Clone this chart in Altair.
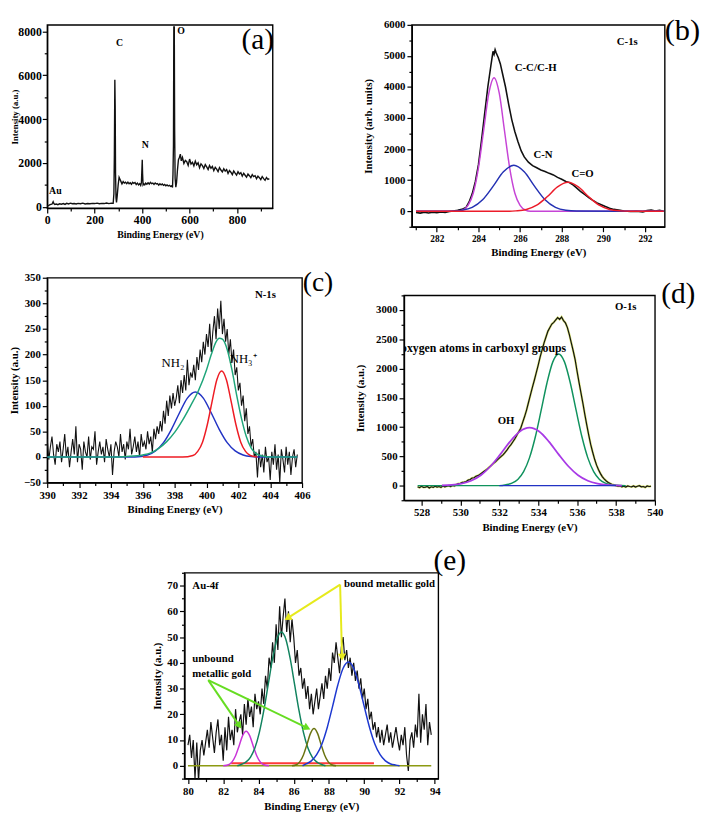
import altair as alt
import pandas as pd

SERIF = "Liberation Serif"

# ---------------- (a) survey spectrum ----------------
a_x = [0, 5, 10, 15, 20, 25, 28, 32, 38, 45,
       52, 60, 68, 75, 82, 90, 98, 106, 114, 122,
       130, 140, 150, 160, 170, 180, 190, 200, 210, 220,
       230, 240, 250, 260, 270, 278, 281, 283, 285, 286.5,
       288, 290, 292, 295, 299, 303, 307, 311, 315, 320,
       325, 330, 335, 340, 345, 350, 355, 360, 365, 370,
       375, 380, 385, 390, 394, 397, 399, 400.5, 402, 404,
       407, 411, 415, 420, 425, 430, 435, 440, 445, 450,
       455, 460, 465, 470, 475, 480, 485, 490, 495, 500,
       505, 510, 515, 520, 525, 528, 530, 532, 533.5, 535.5,
       537, 539, 542, 545, 549, 553, 557, 561, 565]
a_y = [30, 60, 90, 110, 120, 230, 150, 110, 130, 100,
       140, 120, 150, 110, 160, 130, 170, 140, 150, 130,
       160, 140, 170, 130, 150, 140, 160, 150, 170, 140,
       160, 150, 175, 150, 170, 160, 600, 2400, 5800, 4600,
       1500, 400, 200, 500, 1000, 1350, 1250, 1150, 1050, 1150,
       1080, 1120, 1060, 1130, 1050, 1100, 1030, 1120, 1070, 1110,
       1020, 1080, 1000, 1060, 980, 1100, 1700, 2150, 1500, 1000,
       1050, 1000, 1080, 1030, 1100, 1040, 1120, 1060, 1080, 1020,
       1090, 1040, 1060, 990, 1050, 1000, 1040, 980, 1020, 960,
       1000, 950, 980, 930, 960, 880, 1500, 2800, 8200, 8200,
       3500, 1300, 900, 1100, 1700, 2150, 2250, 2400, 2100]
# tail of the survey: start energy, step, measured values
a_tail_start, a_tail_step = 570, 6
a_tail = [2250, 1980, 2120, 2060, 1890, 2180, 1950, 2030, 1870, 2090,
          1920, 2010, 1780, 1960, 1880, 1750, 1930, 1820, 1700, 1890,
          1760, 1840, 1650, 1800, 1720, 1610, 1790, 1680, 1590, 1740,
          1630, 1700, 1520, 1660, 1580, 1470, 1640, 1540, 1450, 1600,
          1500, 1560, 1400, 1530, 1440, 1350, 1500, 1420, 1330, 1470,
          1380, 1420, 1280, 1400, 1330, 1240, 1380, 1290, 1210, 1340,
          1250, 1290]
a_lbl = ["C", "N", "O", "Au"]
a_lbl_x = [290, 398, 548, 8]
a_lbl_y = [7460, 2830, 8000, 720]

# ---------------- (b) C-1s ----------------
b_black_x = [281.0, 281.2, 281.4, 281.6, 281.8, 282.0, 282.2, 282.4, 282.6, 282.8,
             283.0, 283.2, 283.4, 283.55, 283.7, 283.85, 284.0, 284.15, 284.3, 284.45,
             284.6, 284.7, 284.75, 284.8, 284.85, 284.95, 285.05, 285.15, 285.3, 285.45,
             285.6, 285.75, 285.9, 286.05, 286.2, 286.4, 286.6, 286.8, 287.0, 287.2,
             287.4, 287.6, 287.8, 288.0, 288.2, 288.35, 288.5, 288.7, 288.9, 289.1,
             289.3, 289.5, 289.7, 289.9, 290.1, 290.3, 290.5, 290.8, 291.0, 291.3,
             291.6, 291.9, 292.1, 292.3, 292.5, 292.7, 292.9]
b_black_y = [-40, -60, -30, -55, -35, -50, -20, -40, -10, 10,
             30, 60, 120, 300, 560, 950, 1500, 2300, 3150, 4000,
             4700, 5150, 5050, 5200, 5100, 4950, 4750, 4450, 4000, 3450,
             2950, 2560, 2240, 1950, 1750, 1580, 1470, 1400, 1330, 1280,
             1220, 1170, 1090, 1030, 960, 930, 870, 760, 640, 540,
             440, 350, 270, 210, 150, 100, 60, 30, 10, -10,
             0, -20, 20, 40, 10, 30, 0]
b_cc_x = [281.0, 283.0, 283.25, 283.5, 283.75, 284.0, 284.25, 284.5, 284.75, 285.0,
          285.25, 285.5, 285.75, 286.0, 286.25, 286.5, 292.9]
b_cc_y = [0, 0, 40, 190, 580, 1400, 2600, 3800, 4300, 3800,
          2600, 1400, 580, 190, 40, 0, 0]
b_cn_x = [281.0, 282.7, 283.2, 283.7, 284.2, 284.7, 285.2, 285.7, 286.2, 286.7,
          287.2, 287.7, 288.2, 288.7, 292.9]
b_cn_y = [0, 0, 30, 125, 370, 800, 1270, 1480, 1270, 800,
          370, 125, 30, 5, 0]
b_co_x = [281.0, 285.5, 285.8, 286.3, 286.8, 287.3, 287.8, 288.3, 288.8, 289.3,
          289.8, 290.3, 290.8, 291.3, 292.9]
b_co_y = [0, 0, 12, 58, 196, 465, 782, 930, 782, 465,
          196, 58, 12, 0, 0]
b_lbl = ["C-1s", "C-C/C-H", "C-N", "C=O"]
b_lbl_x = [291.15, 286.75, 287.1, 289.0]
b_lbl_y = [5460, 4610, 1800, 1200]

# ---------------- (c) N-1s ----------------
c_start, c_step = 390.0, 0.1
c_black = [35, -5, 20, 40, 5, -15, 25, 10, 30, -10,
           15, 45, 0, 20, -20, 10, 35, 5, 60, -10,
           25, 15, -25, 30, 10, 0, 40, -5, 20, 15,
           50, -15, 10, 30, 5, 20, -10, 35, 15, 0,
           25, -35, 10, 30, 20, 0, 45, 10, 25, -5,
           30, 15, 55, 5, 20, 40, 10, 30, 0, 45, 20,
           30, 15, 50, 25, 40, 10, 55, 35, 60, 45,
           70, 50, 90, 65, 110, 80, 120, 95, 125, 100,
           115, 140, 105, 150, 125, 160, 130, 190, 140, 165,
           155, 180, 150, 195, 170, 210, 185, 225, 200, 240,
           215, 260, 205, 245, 275, 230, 290, 250, 305, 240,
           270, 225, 250, 200, 230, 185, 210, 160, 175, 130,
           145, 100, 120, 70, 95, 45, 60, 20, 35, 0,
           10, -40, 15, -20, 5, -30, 20, -10, 0, -45,
           10, -15, 25, -25, 5, -50, 15, -5, -30, 20,
           -15, 10, -35, 0, 15, -20, 5]
c_blue_x = [390.0, 395.5, 396.3, 396.8, 397.3, 397.8, 398.3, 398.8, 399.3, 399.8,
            400.3, 400.8, 401.3, 401.8, 402.3, 402.8, 403.5, 405.7]
c_blue_y = [0, 0, 4, 12, 28, 54, 86, 115, 127, 115,
            86, 54, 28, 12, 4, 1, 0, 0]
c_red_x = [396.0, 398.5, 399.15, 399.45, 399.75, 400.05, 400.35, 400.65, 400.95, 401.25,
           401.55, 401.85, 402.15, 402.45, 402.75, 403.2]
c_red_y = [0, 0, 3, 11, 29, 63, 108, 151, 168, 151,
           108, 63, 29, 11, 3, 0]
c_fit_x = [390.0, 394.0, 395.0, 396.0, 396.5, 397.0, 397.5, 398.0, 398.5, 399.0,
           399.5, 400.0, 400.3, 400.6, 400.8, 401.0, 401.3, 401.6, 401.9, 402.2,
           402.5, 402.8, 403.1, 403.5, 404.0, 405.7]
c_fit_y = [0, 0, 1, 4, 8, 17, 30, 48, 72, 100,
           130, 170, 200, 225, 232, 230, 210, 170, 120, 75,
           40, 18, 7, 2, 0, 0]
c_lbl = ["N-1s", "NH₂", "NH₃⁺"]
c_lbl_x = [403.7, 397.9, 402.3]
c_lbl_y = [317, 183, 192]

# ---------------- (d) O-1s ----------------
d_start, d_step = 527.8, 0.1
d_black = [-20, -35, -10, -30, -25, -15, -40, -20, -30, -10,
           -25, -15, -30, -5, -20, -10, 0, -15, 5, -5,
           20, 35, 40, 55, 60, 70, 95, 105, 130, 135,
           160, 170, 190, 215, 240, 265, 290, 320, 350, 380,
           405, 440, 470, 500, 530, 570, 610, 660, 700, 750,
           800, 860, 920, 980, 1080, 1180, 1290, 1420, 1550, 1680,
           1800, 1930, 2060, 2200, 2320, 2440, 2540, 2640, 2700, 2760,
           2790, 2830, 2870, 2840, 2880, 2820, 2780, 2700, 2580, 2440,
           2300, 2150, 1950, 1760, 1580, 1400, 1210, 1030, 860, 700,
           570, 450, 350, 270, 205, 150, 110, 80, 55, 35,
           20, 10, 0, -10, -5, -20, -10, -25, -5, -15,
           -20, -5, -25, -10, 0, -20, -15, -30, -5, -15,
           -10]
d_green_x = [527.8, 532.0, 532.35, 532.65, 532.95, 533.25, 533.55, 533.85, 534.15, 534.45,
             534.75, 535.05, 535.35, 535.65, 535.95, 536.25, 536.55, 536.85, 537.15, 537.45,
             537.75, 538.05, 538.5]
d_green_y = [0, 0, 15, 42, 106, 239, 474, 830, 1284, 1754,
             2114, 2250, 2114, 1754, 1284, 830, 474, 239, 106, 42,
             15, 5, 0]
d_oh_x = [529.05, 529.55, 530.05, 530.55, 531.05, 531.55, 532.05, 532.55, 533.05, 533.55,
          534.05, 534.55, 535.05, 535.55, 536.05, 536.55, 537.05, 537.55, 538.05, 538.3]
d_oh_y = [4, 12, 35, 84, 178, 331, 534, 752, 925, 990,
          925, 752, 534, 331, 178, 84, 35, 12, 4, 0]
d_base_x = [532.0, 538.0]
d_base_y = [0, 0]
d_lbl = ["O-1s", "OH"]
d_lbl_x = [538.5, 532.35]
d_lbl_y = [3050, 1105]

# ---------------- (e) Au-4f ----------------
e_start, e_step = 80.0, 0.1
e_black = [8, 12, 3, 10, -5, 9, -6, 6, 10, 4,
           9, 14, 7, 17, 11, 5, 13, 18, 8, 12,
           2, 15, 6, 19, 10, 14, 8, 22, 13, 17,
           20, 12, 24, 16, 26, 19, 23, 15, 28, 22,
           25, 20, 30, 24, 35, 30, 42, 38, 48, 40,
           55, 45, 62, 50, 58, 65, 52, 60, 48, 57,
           50, 40, 45, 35, 38, 30, 34, 26, 31, 22,
           28, 20, 25, 30, 22, 27, 32, 26, 35, 30,
           38, 33, 44, 40, 48, 42, 36, 46, 50, 41,
           45, 38, 42, 35, 40, 33, 37, 30, 34, 26,
           30, 22, 26, 18, 21, 14, 17, 11, 15, 9,
           14, 8, 12, 16, 9, 13, 7, 11, 15, 10,
           6, 12, 8, 15, 4, -2, 10, 13, 7, 16,
           11, 28, 9, 20, 14, 24, 8, 17, 12]
e_mag_x = [82.0, 82.3, 82.5, 82.7, 82.9, 83.1, 83.3, 83.5, 83.7, 83.9, 84.1, 84.3, 84.6]
e_mag_y = [0, 0.4, 1.5, 3.9, 7.7, 11.7, 13.4, 11.7, 7.7, 3.9, 1.5, 0.4, 0]
e_teal_x = [82.8, 83.05, 83.3, 83.55, 83.8, 84.05, 84.3, 84.55, 84.8, 85.05,
            85.3, 85.55, 85.8, 86.05, 86.3, 86.55, 86.8, 87.05, 87.3, 87.55, 87.8]
e_teal_y = [0, 0.6, 1.5, 3.4, 7.0, 13.0, 21.4, 31.5, 41.6, 49.2,
            52, 49.2, 41.6, 31.5, 21.4, 13.0, 7.0, 3.4, 1.5, 0.6, 0]
e_olive_x = [85.9, 86.15, 86.35, 86.55, 86.75, 86.95, 87.15, 87.35, 87.55, 87.75, 87.95, 88.15, 88.4]
e_olive_y = [0, 0.4, 1.6, 4.2, 8.3, 12.6, 14.5, 12.6, 8.3, 4.2, 1.6, 0.4, 0]
e_blue_x = [86.5, 86.7, 87.0, 87.3, 87.6, 87.9, 88.2, 88.5, 88.8, 89.1,
            89.4, 89.7, 90.0, 90.3, 90.6, 90.9, 91.2, 91.5, 91.8, 92.0]
e_blue_y = [0, 0.7, 1.9, 4.3, 8.5, 14.9, 23.0, 31.4, 37.9, 40.3,
            37.9, 31.4, 23.0, 14.9, 8.5, 4.3, 1.9, 0.7, 0.26, 0]
e_red_x = [82.45, 90.55]
e_red_y = [1.0, 1.0]
e_base_x = [80.0, 93.8]
e_base_y = [0, 0]
e_lbl = ["Au-4f", "bound metallic gold", "unbound", "metallic gold"]
e_lbl_x = [80.25, 88.85, 80.25, 80.25]
e_lbl_y = [69.7, 70.8, 41.5, 35.8]
# arrows: start, end (data coords)
e_yel_x = [88.63, 88.63]
e_yel_y = [70.4, 70.4]
e_yel_x2 = [85.65, 88.74]
e_yel_y2 = [57.4, 42.2]
e_yel_ang = [238, 179]
e_grn_x = [81.15, 81.15]
e_grn_y = [33.3, 33.3]
e_grn_x2 = [82.91, 86.76]
e_grn_y2 = [15.6, 14.7]
e_grn_ang = [146, 116]

# panel letters
letters = {"a": (887, 7600), "b": (293.8, 5810), "c": (407.0, 340), "d": (541.2, 3270), "e": (94.85, 79.6)}


# ---------------- helpers ----------------
def series(xs, ys):
    return pd.DataFrame({"x": xs, "y": ys})


def grid(start, step, vals):
    return pd.DataFrame({"x": [round(start + step * i, 4) for i in range(len(vals))], "y": vals})


def ticks(lo, hi, step):
    out = []
    k = int(lo // step)
    while k * step <= hi + 1e-9:
        if k * step >= lo - 1e-9:
            out.append(round(k * step, 6))
        k += 1
    return out


def major_test(step):
    return f"abs(datum.value / {step} - round(datum.value / {step})) < 0.001"


def axis(title, dom, major, minor, title_size=11, label_size=11, title_pad=4, label_pad=2, weight="bold"):
    return alt.Axis(
        title=title, values=ticks(dom[0], dom[1], minor), format="d",
        labelExpr=f"{major_test(major)} ? datum.label : ''",
        tickSize={"condition": {"test": major_test(major), "value": 5}, "value": 3},
        titleFontSize=title_size, labelFontSize=label_size,
        titlePadding=title_pad, labelPadding=label_pad, labelFontWeight=weight,
    )


def line(df, X, Y, color, width=1.2, clip=True):
    return alt.Chart(df).mark_line(color=color, strokeWidth=width, clip=clip).encode(x=X, y=Y)


def smooth(df, X, Y, color, width=1.5):
    return alt.Chart(df).mark_line(color=color, strokeWidth=width, interpolate="monotone", clip=True).encode(x=X, y=Y)


def texts(t, xs, ys, X, Y, size=11, weight="bold", align="center", color="black", clip=False):
    df = pd.DataFrame({"x": xs, "y": ys, "t": t})
    return alt.Chart(df).mark_text(font=SERIF, fontWeight=weight, fontSize=size, align=align,
                                   baseline="middle", color=color, clip=clip).encode(
        x=X, y=Y, text="t:N")


def letter(key, X, Y, size=30):
    lx, ly = letters[key]
    return texts([f"({key})"], [lx], [ly], X, Y, size=size, weight="normal")


def spacer(w, h):
    return alt.Chart(pd.DataFrame({"v": [0]})).mark_point(opacity=0, size=1).encode(
        x=alt.X("v:Q", axis=None), y=alt.Y("v:Q", axis=None)
    ).properties(width=w, height=h, view=alt.ViewBackground(strokeOpacity=0))


def scl(dom):
    return alt.Scale(domain=dom, nice=False, zero=False)


# ---------------- panel (a) ----------------
a_xdom, a_ydom = [0, 950], [-60, 8300]
Xa = alt.X("x:Q", scale=scl(a_xdom), axis=axis("Binding Energy (eV)", a_xdom, 200, 100, 10, 12))
Ya = alt.Y("y:Q", scale=scl(a_ydom), axis=axis("Intensity (a.u.)", a_ydom, 2000, 1000, 9, 12, -2, 1))
a_df = pd.concat([series(a_x, a_y), grid(a_tail_start, a_tail_step, a_tail)], ignore_index=True)
panel_a = alt.layer(
    line(a_df, Xa, Ya, "#111111", 1.4),
    texts(a_lbl, a_lbl_x, a_lbl_y, Xa, Ya, size=10, align="left"),
    letter("a", Xa, Ya),
).properties(width=230, height=187)

# ---------------- panel (b) ----------------
b_xdom, b_ydom = [280.8, 292.95], [-500, 6000]
Xb = alt.X("x:Q", scale=scl(b_xdom), axis=axis("Binding Energy (eV)", b_xdom, 2, 1, 11, 9.5))
Yb = alt.Y("y:Q", scale=scl(b_ydom), axis=axis("Intensity (arb. units)", b_ydom, 1000, 500, title_pad=10))
panel_b = alt.layer(
    line(series(b_black_x, b_black_y), Xb, Yb, "#111111", 1.6),
    smooth(series(b_cc_x, b_cc_y), Xb, Yb, "#c644d6"),
    smooth(series(b_cn_x, b_cn_y), Xb, Yb, "#2431b3"),
    smooth(series(b_co_x, b_co_y), Xb, Yb, "#ec1c2a"),
    texts(b_lbl, b_lbl_x, b_lbl_y, Xb, Yb, size=11),
    letter("b", Xb, Yb, 31),
).properties(width=258, height=206)

# ---------------- panel (c) ----------------
c_xdom, c_ydom = [390, 406], [-50, 350]
Xc = alt.X("x:Q", scale=scl(c_xdom), axis=axis("Binding Energy (eV)", c_xdom, 2, 1))
Yc = alt.Y("y:Q", scale=scl(c_ydom), axis=axis("Intensity (a.u.)", c_ydom, 50, 25, title_pad=4))
panel_c = alt.layer(
    line(grid(c_start, c_step, c_black), Xc, Yc, "#111111", 1.1),
    smooth(series(c_blue_x, c_blue_y), Xc, Yc, "#2233c4"),
    smooth(series(c_red_x, c_red_y), Xc, Yc, "#ee1c24"),
    smooth(series(c_fit_x, c_fit_y), Xc, Yc, "#1fa57a"),
    texts(c_lbl[:1], c_lbl_x[:1], c_lbl_y[:1], Xc, Yc, size=11),
    texts(c_lbl[1:], c_lbl_x[1:], c_lbl_y[1:], Xc, Yc, size=13, weight="normal"),
    letter("c", Xc, Yc, 28),
).properties(width=260, height=209)

# ---------------- panel (d) ----------------
d_xdom, d_ydom = [527.1, 540], [-250, 3250]
Xd = alt.X("x:Q", scale=scl(d_xdom), axis=axis("Binding Energy (eV)", d_xdom, 2, 1))
Yd = alt.Y("y:Q", scale=scl(d_ydom), axis=axis("Intensity (a.u.)", d_ydom, 500, 250, title_pad=10))
d_df = grid(d_start, d_step, d_black)
panel_d = alt.layer(
    line(d_df, Xd, Yd, "#d6e070", 2.3),
    line(d_df, Xd, Yd, "#111111", 1.2),
    smooth(series(d_green_x, d_green_y), Xd, Yd, "#10925e"),
    smooth(series(d_oh_x, d_oh_y), Xd, Yd, "#a83ae6", 1.8),
    line(series(d_base_x, d_base_y), Xd, Yd, "#2233c4", 1.3),
    texts(d_lbl, d_lbl_x, d_lbl_y, Xd, Yd, size=11),
    texts(["oxygen atoms in carboxyl groups"], [526.95], [2345], Xd, Yd, size=12, align="left", clip=True),
    letter("d", Xd, Yd, 30),
).properties(width=256, height=209)

# ---------------- panel (e) ----------------
e_xdom, e_ydom = [79.8, 94.2], [-5, 75]
Xe = alt.X("x:Q", scale=scl(e_xdom), axis=axis("Binding Energy (eV)", e_xdom, 2, 1))
Ye = alt.Y("y:Q", scale=scl(e_ydom), axis=axis("Intensity (a.u.)", e_ydom, 10, 5))


def arrows(xs, ys, x2s, y2s, angs, color):
    body = pd.DataFrame({"x": xs, "y": ys, "x2": x2s, "y2": y2s})
    tips = pd.DataFrame({"x": x2s, "y": y2s, "a": angs})
    rule = alt.Chart(body).mark_rule(color=color, strokeWidth=2).encode(x=Xe, y=Ye, x2="x2:Q", y2="y2:Q")
    head = alt.Chart(tips).mark_point(shape="triangle-up", filled=True, size=70, color=color, opacity=1).encode(
        x=Xe, y=Ye, angle=alt.Angle("a:Q", scale=None))
    return [rule, head]


panel_e = alt.layer(
    line(grid(e_start, e_step, e_black), Xe, Ye, "#111111", 1.2),
    line(series(e_base_x, e_base_y), Xe, Ye, "#8c9a12", 1.6),
    line(series(e_red_x, e_red_y), Xe, Ye, "#ff3a3a", 2.0),
    smooth(series(e_mag_x, e_mag_y), Xe, Ye, "#c935d8"),
    smooth(series(e_teal_x, e_teal_y), Xe, Ye, "#12835f"),
    smooth(series(e_olive_x, e_olive_y), Xe, Ye, "#6b7410"),
    smooth(series(e_blue_x, e_blue_y), Xe, Ye, "#1d38d0"),
    *arrows(e_yel_x, e_yel_y, e_yel_x2, e_yel_y2, e_yel_ang, "#e6ea1c"),
    *arrows(e_grn_x, e_grn_y, e_grn_x2, e_grn_y2, e_grn_ang, "#66dd22"),
    texts(e_lbl, e_lbl_x, e_lbl_y, Xe, Ye, size=11, align="left"),
    letter("e", Xe, Ye, 30),
).properties(width=259, height=210)

row1 = alt.hconcat(panel_a, panel_b, spacing=88)
row2 = alt.hconcat(panel_c, alt.vconcat(spacer(1, 1), panel_d, spacing=0), spacing=20)
row3 = alt.hconcat(spacer(106, 1), panel_e, spacing=0)

chart = alt.vconcat(alt.vconcat(row1, row2, spacing=9), row3, spacing=12).properties(
    padding={"left": 0, "top": -2, "right": 0, "bottom": 0}
).configure_view(
    stroke="black", strokeWidth=1.4
).configure_axis(
    labelFont=SERIF, titleFont=SERIF, labelFontWeight="bold", titleFontWeight="bold",
    labelColor="black", titleColor="black", domainColor="black", tickColor="black",
    domainWidth=1.4, tickWidth=1.2, grid=False,
    labelOverlap=False, labelFlush=False
)

chart.save("out.html", embed_options={"renderer": "svg", "actions": False})
